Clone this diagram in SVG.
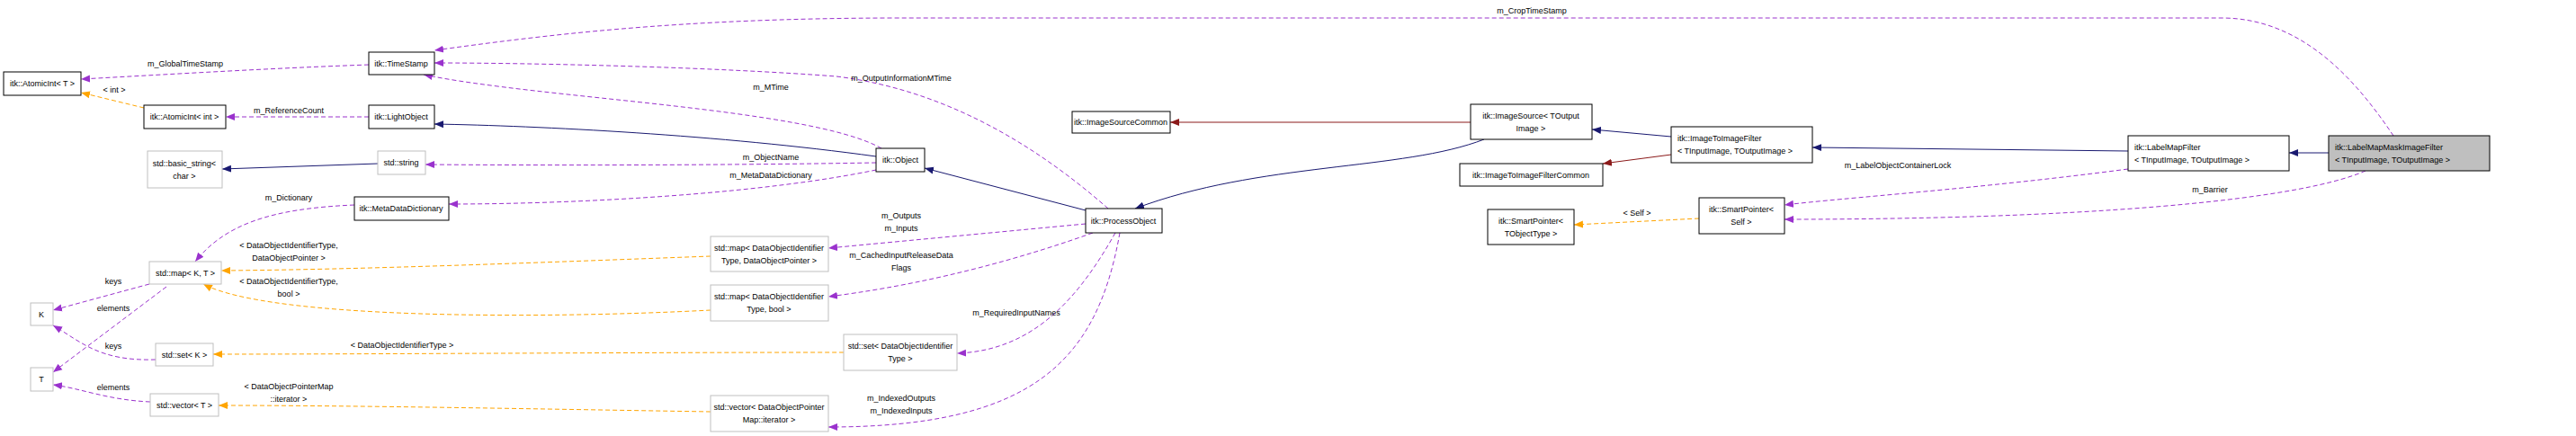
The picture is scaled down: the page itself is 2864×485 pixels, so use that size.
<svg xmlns="http://www.w3.org/2000/svg" width="2864" height="485" viewBox="0 0 2864 485">
<style>
text{font-family:"Liberation Sans",Arial,sans-serif;font-size:9px;fill:#000}
.n rect{fill:#fff;stroke:#000;stroke-width:1}
.g rect{fill:#fff;stroke:#bfbfbf;stroke-width:1}
.m{fill:none;stroke:#9a32cd;stroke-dasharray:5,3}
.o{fill:none;stroke:#ffa500;stroke-dasharray:5,3}
.b{fill:none;stroke:#191970}
.r{fill:none;stroke:#8b1a1a}
</style>
<defs>
<marker id="am" viewBox="0 0 10 10" refX="10" refY="5" markerWidth="10" markerHeight="10" markerUnits="userSpaceOnUse" orient="auto"><path d="M0,1L10,5L0,9z" fill="#9a32cd"/></marker>
<marker id="ao" viewBox="0 0 10 10" refX="10" refY="5" markerWidth="10" markerHeight="10" markerUnits="userSpaceOnUse" orient="auto"><path d="M0,1L10,5L0,9z" fill="#ffa500"/></marker>
<marker id="ab" viewBox="0 0 10 10" refX="10" refY="5" markerWidth="10" markerHeight="10" markerUnits="userSpaceOnUse" orient="auto"><path d="M0,1L10,5L0,9z" fill="#191970"/></marker>
<marker id="ar" viewBox="0 0 10 10" refX="10" refY="5" markerWidth="10" markerHeight="10" markerUnits="userSpaceOnUse" orient="auto"><path d="M0,1L10,5L0,9z" fill="#8b1a1a"/></marker>
</defs>
<g id="edges" text-anchor="middle">
<path class="m" marker-end="url(#am)" d="M410,72 C300,76 200,82 90,88"/><text x="206" y="74">m_GlobalTimeStamp</text>
<path class="o" marker-end="url(#ao)" d="M160,120 L90,103"/><text x="127" y="103">&lt; int &gt;</text>
<path class="m" marker-end="url(#am)" d="M410,130 L251,130"/><text x="321" y="126">m_ReferenceCount</text>
<path class="b" marker-end="url(#ab)" d="M420,182 L247,188"/>
<path class="b" marker-end="url(#ab)" d="M974,174 C800,150 600,140 483,138"/>
<path class="m" marker-end="url(#am)" d="M974,181 C800,184 600,184 473,183"/><text x="857" y="178">m_ObjectName</text>
<path class="m" marker-end="url(#am)" d="M974,189 C850,215 650,227 499,227"/><text x="857" y="198">m_MetaDataDictionary</text>
<path class="m" marker-end="url(#am)" d="M980,165 C900,120 600,110 471,83"/><text x="857" y="100">m_MTime</text>
<path class="m" marker-end="url(#am)" d="M1232,232 C1150,160 1050,100 930,85 C800,75 600,70 483,70"/><text x="1002" y="90">m_OutputInformationMTime</text>
<path class="m" marker-end="url(#am)" d="M2661,151 C2620,90 2560,20 2470,20 L1000,20 C750,20 600,40 483,56"/><text x="1703" y="15">m_CropTimeStamp</text>
<path class="b" marker-end="url(#ab)" d="M1207,234 L1028,187"/>
<path class="b" marker-end="url(#ab)" d="M1650,155 C1560,190 1400,180 1262,232"/>
<path class="r" marker-end="url(#ar)" d="M1635,136 L1301,136"/>
<path class="b" marker-end="url(#ab)" d="M1858,152 L1770,144"/>
<path class="r" marker-end="url(#ar)" d="M1858,172 L1782,182"/>
<path class="b" marker-end="url(#ab)" d="M2366,168 L2015,164"/>
<path class="b" marker-end="url(#ab)" d="M2589,170 L2545,170"/>
<path class="m" marker-end="url(#am)" d="M2366,188 C2200,210 2050,220 1984,228"/><text x="2110" y="187">m_LabelObjectContainerLock</text>
<path class="m" marker-end="url(#am)" d="M2630,190 C2550,225 2300,244 1984,244"/><text x="2457" y="214">m_Barrier</text>
<path class="o" marker-end="url(#ao)" d="M1889,243 L1750,250"/><text x="1820" y="240">&lt; Self &gt;</text>
<path class="m" marker-end="url(#am)" d="M394,228 C300,232 250,250 217,291"/><text x="321" y="223">m_Dictionary</text>
<path class="m" marker-end="url(#am)" d="M166,316 L59,345"/><text x="126" y="316">keys</text>
<path class="m" marker-end="url(#am)" d="M185,319 L59,414"/><text x="126" y="346">elements</text>
<path class="m" marker-end="url(#am)" d="M173,400 C110,402 90,380 59,362"/><text x="126" y="388">keys</text>
<path class="m" marker-end="url(#am)" d="M167,447 C120,445 90,432 59,428"/><text x="126" y="434">elements</text>
<path class="o" marker-end="url(#ao)" d="M790,285 C600,292 400,300 246,301"/><text x="321" y="276">&lt; DataObjectIdentifierType,</text><text x="321" y="290">DataObjectPointer &gt;</text>
<path class="o" marker-end="url(#ao)" d="M790,345 C600,355 300,355 226,316"/><text x="321" y="316">&lt; DataObjectIdentifierType,</text><text x="321" y="330">bool &gt;</text>
<path class="o" marker-end="url(#ao)" d="M938,392 C700,392 400,394 237,394"/><text x="447" y="387">&lt; DataObjectIdentifierType &gt;</text>
<path class="o" marker-end="url(#ao)" d="M790,458 C600,455 400,451 243,451"/><text x="321" y="433">&lt; DataObjectPointerMap</text><text x="321" y="447">::iterator &gt;</text>
<path class="m" marker-end="url(#am)" d="M1207,249 L921,276"/><text x="1002" y="243">m_Outputs</text><text x="1002" y="257">m_Inputs</text>
<path class="m" marker-end="url(#am)" d="M1215,259 C1100,300 1000,320 921,330"/><text x="1002" y="287">m_CachedInputReleaseData</text><text x="1002" y="301">Flags</text>
<path class="m" marker-end="url(#am)" d="M1240,259 C1200,330 1150,390 1064,393"/><text x="1130" y="351">m_RequiredInputNames</text>
<path class="m" marker-end="url(#am)" d="M1245,259 C1220,400 1150,475 921,475"/><text x="1002" y="446">m_IndexedOutputs</text><text x="1002" y="460">m_IndexedInputs</text>
</g>
<g id="atomicT" class="n"><rect x="4" y="80" width="86" height="26"/><text x="47" y="96" text-anchor="middle">itk::AtomicInt&lt; T &gt;</text></g>
<g id="timestamp" class="n"><rect x="410" y="58" width="73" height="25"/><text x="446" y="74" text-anchor="middle">itk::TimeStamp</text></g>
<g id="atomicInt" class="n"><rect x="160" y="117" width="91" height="26"/><text x="205" y="133" text-anchor="middle">itk::AtomicInt&lt; int &gt;</text></g>
<g id="lightobject" class="n"><rect x="410" y="117" width="73" height="26"/><text x="446" y="133" text-anchor="middle">itk::LightObject</text></g>
<g id="basicstring" class="g"><rect x="164" y="168" width="83" height="41"/><text x="205" y="185" text-anchor="middle">std::basic_string&lt;</text><text x="205" y="199" text-anchor="middle">char &gt;</text></g>
<g id="stdstring" class="g"><rect x="420" y="168" width="53" height="26"/><text x="446" y="184" text-anchor="middle">std::string</text></g>
<g id="metadatadict" class="n"><rect x="394" y="219" width="105" height="26"/><text x="446" y="235" text-anchor="middle">itk::MetaDataDictionary</text></g>
<g id="mapKT" class="g"><rect x="166" y="291" width="80" height="25"/><text x="206" y="307" text-anchor="middle">std::map&lt; K, T &gt;</text></g>
<g id="K" class="g"><rect x="34" y="337" width="25" height="25"/><text x="46" y="353" text-anchor="middle">K</text></g>
<g id="setK" class="g"><rect x="173" y="382" width="64" height="25"/><text x="205" y="398" text-anchor="middle">std::set&lt; K &gt;</text></g>
<g id="T" class="g"><rect x="34" y="409" width="25" height="26"/><text x="46" y="425" text-anchor="middle">T</text></g>
<g id="vectorT" class="g"><rect x="167" y="438" width="76" height="25"/><text x="205" y="454" text-anchor="middle">std::vector&lt; T &gt;</text></g>
<g id="object" class="n"><rect x="974" y="165" width="54" height="26"/><text x="1001" y="181" text-anchor="middle">itk::Object</text></g>
<g id="imagesourcecommon" class="n"><rect x="1192" y="124" width="109" height="24"/><text x="1246" y="139" text-anchor="middle">itk::ImageSourceCommon</text></g>
<g id="processobject" class="n"><rect x="1207" y="232" width="85" height="27"/><text x="1249" y="249" text-anchor="middle">itk::ProcessObject</text></g>
<g id="mapDOP" class="g"><rect x="790" y="263" width="131" height="39"/><text x="855" y="279" text-anchor="middle">std::map&lt; DataObjectIdentifier</text><text x="855" y="293" text-anchor="middle">Type, DataObjectPointer &gt;</text></g>
<g id="mapBool" class="g"><rect x="790" y="317" width="131" height="40"/><text x="855" y="333" text-anchor="middle">std::map&lt; DataObjectIdentifier</text><text x="855" y="347" text-anchor="middle">Type, bool &gt;</text></g>
<g id="setDOI" class="g"><rect x="938" y="372" width="126" height="40"/><text x="1001" y="388" text-anchor="middle">std::set&lt; DataObjectIdentifier</text><text x="1001" y="402" text-anchor="middle">Type &gt;</text></g>
<g id="vectorDOP" class="g"><rect x="790" y="440" width="131" height="40"/><text x="855" y="456" text-anchor="middle">std::vector&lt; DataObjectPointer</text><text x="855" y="470" text-anchor="middle">Map::iterator &gt;</text></g>
<g id="imagesource" class="n"><rect x="1635" y="116" width="135" height="39"/><text x="1702" y="132" text-anchor="middle">itk::ImageSource&lt; TOutput</text><text x="1702" y="146" text-anchor="middle">Image &gt;</text></g>
<g id="i2icommon" class="n"><rect x="1623" y="182" width="159" height="25"/><text x="1702" y="198" text-anchor="middle">itk::ImageToImageFilterCommon</text></g>
<g id="i2ifilter" class="n"><rect x="1858" y="141" width="157" height="40"/><text x="1865" y="157">itk::ImageToImageFilter</text><text x="1865" y="171">&lt; TInputImage, TOutputImage &gt;</text></g>
<g id="spSelf" class="n"><rect x="1889" y="220" width="95" height="40"/><text x="1936" y="236" text-anchor="middle">itk::SmartPointer&lt;</text><text x="1936" y="250" text-anchor="middle">Self &gt;</text></g>
<g id="spT" class="n"><rect x="1654" y="233" width="96" height="39"/><text x="1702" y="249" text-anchor="middle">itk::SmartPointer&lt;</text><text x="1702" y="263" text-anchor="middle">TObjectType &gt;</text></g>
<g id="labelmapfilter" class="n"><rect x="2366" y="151" width="179" height="39"/><text x="2373" y="167">itk::LabelMapFilter</text><text x="2373" y="181">&lt; TInputImage, TOutputImage &gt;</text></g>
<g id="labelmapmask"><rect x="2589" y="151" width="179" height="39" fill="#bfbfbf" stroke="#000"/><text x="2596" y="167">itk::LabelMapMaskImageFilter</text><text x="2596" y="181">&lt; TInputImage, TOutputImage &gt;</text></g>
</svg>
